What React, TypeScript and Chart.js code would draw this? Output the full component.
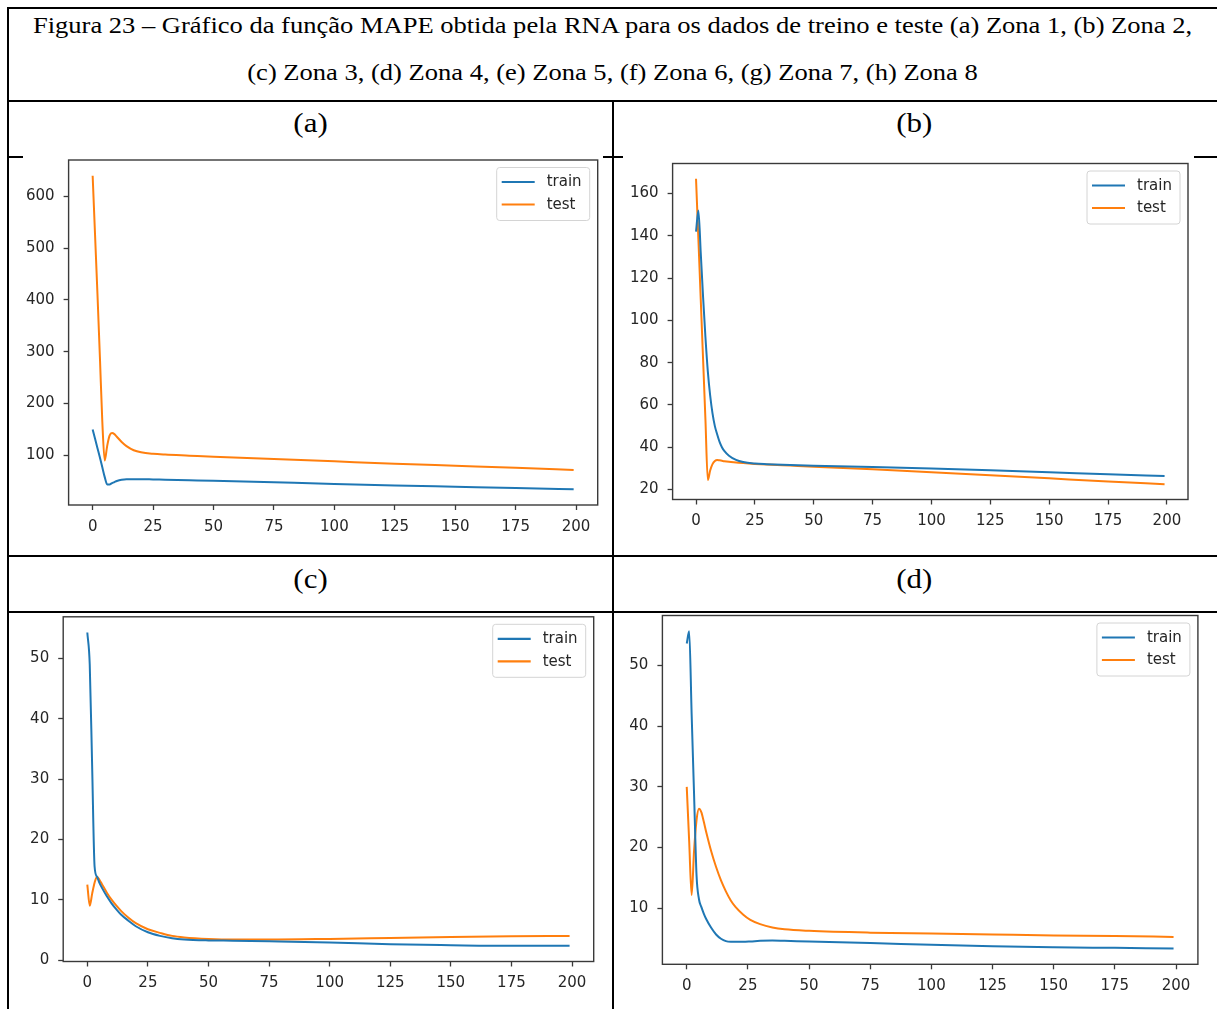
import React, { useEffect, useRef } from "react";
import { Chart, registerables } from "chart.js";

Chart.register(...registerables);

// ---------------- data ----------------
const TITLE_LINE_1 =
  "Figura 23 – Gráfico da função MAPE obtida pela RNA para os dados de treino e teste (a) Zona 1, (b) Zona 2,";
const TITLE_LINE_2 = "(c) Zona 3, (d) Zona 4, (e) Zona 5, (f) Zona 6, (g) Zona 7, (h) Zona 8";
const PANEL_LABELS = ["(a)", "(b)", "(c)", "(d)"];
const SERIES_LABELS = ["train", "test"];
const X_TICKS = [0, 25, 50, 75, 100, 125, 150, 175, 200];

// (a) Zona 1
const EPOCHS_A = [0, 1, 2, 3, 4, 5, 6, 7, 8, 9, 10, 12, 14, 17, 20, 25, 30, 40, 50, 75, 100, 125, 150, 175, 199];
const A_TRAIN = [150, 132, 114, 96, 77, 58, 44, 44, 46.5, 48.5, 50.5, 53, 54, 54, 54, 53.5, 53, 52, 51, 48, 45, 42, 39.5, 37, 34.5];
const A_TEST = [640, 525, 410, 290, 165, 90, 118, 138, 143, 141, 136, 126, 118, 110, 106, 103, 101.5, 99.5, 97.5, 93, 88.5, 84, 80, 76, 72];
const A_Y_TICKS = [100, 200, 300, 400, 500, 600];

// (b) Zona 2
const EPOCHS_B = [0, 1, 2, 3, 4, 5, 6, 7, 8, 9, 10, 11, 12, 14, 17, 20, 25, 30, 40, 50, 75, 100, 125, 150, 175, 199];
const B_TRAIN = [142, 152, 132, 111, 92, 76, 64.5, 56, 50, 46, 42.5, 40, 38.3, 36, 34, 33, 32.3, 32, 31.6, 31.2, 30.6, 29.9, 29.1, 28.2, 27.2, 26.4];
const B_TEST = [167, 138.5, 110, 81.5, 53, 24.5, 29, 32, 33.5, 34, 33.8, 33.6, 33.4, 33.1, 32.8, 32.5, 32.1, 31.8, 31.3, 30.8, 29.6, 28.2, 26.8, 25.3, 23.8, 22.5];
const B_Y_TICKS = [20, 40, 60, 80, 100, 120, 140, 160];

// (c) Zona 3
const EPOCHS_C = [0, 1, 2, 3, 4, 5, 6, 8, 10, 12, 14, 17, 20, 25, 30, 35, 40, 50, 60, 75, 100, 125, 150, 175, 199];
const C_TRAIN = [54.3, 49, 32, 15.5, 13.8, 12.8, 12.0, 10.6, 9.4, 8.4, 7.5, 6.5, 5.6, 4.6, 4.0, 3.6, 3.4, 3.25, 3.2, 3.1, 2.9, 2.6, 2.45, 2.35, 2.35];
const C_TEST = [12.5, 9, 11, 12.8, 13.8, 13.3, 12.6, 11.2, 10.0, 9.0, 8.1, 7.0, 6.1, 5.1, 4.5, 4.0, 3.75, 3.5, 3.4, 3.4, 3.5, 3.65, 3.8, 3.95, 4.0];
const C_Y_TICKS = [0, 10, 20, 30, 40, 50];

// (d) Zona 4
const EPOCHS_D = [0, 1, 2, 3, 4, 5, 6, 7, 8, 10, 12, 14, 16, 18, 20, 23, 26, 30, 35, 40, 50, 75, 100, 125, 150, 175, 199];
const D_TRAIN = [53.6, 55.6, 42, 28.7, 15.5, 11.5, 10.2, 9.1, 8.2, 6.8, 5.7, 5.0, 4.6, 4.5, 4.5, 4.5, 4.55, 4.65, 4.7, 4.65, 4.55, 4.3, 4.0, 3.75, 3.6, 3.5, 3.4];
const D_TEST = [30, 21, 12.2, 19.5, 24.5, 26.4, 25.8, 24.2, 22.5, 19.4, 16.8, 14.6, 12.8, 11.3, 10.2, 9.0, 8.1, 7.4, 6.85, 6.55, 6.3, 6.0, 5.85, 5.7, 5.55, 5.45, 5.3];
const D_Y_TICKS = [10, 20, 30, 40, 50];

// ---------------- styles ----------------
const TRAIN_COLOR = "#1f77b4";
const TEST_COLOR = "#ff7f0e";
const AXIS_COLOR = "#3a3a3a";
const TEXT_COLOR = "#262626";
const TICK_FONT = { family: "'DejaVu Sans', sans-serif", size: 15 };
const SERIF = "'Liberation Serif', 'Times New Roman', serif";

type Rect = { left: number; top: number; width: number; height: number };
type Area = { left: number; top: number; right: number; bottom: number };

const framePlugin = {
  id: "frameAndInnerLegend",
  afterDatasetsDraw(chart: any) {
    const { ctx, chartArea: a } = chart;
    ctx.save();
    ctx.strokeStyle = AXIS_COLOR;
    ctx.lineWidth = 1.4;
    ctx.strokeRect(a.left, a.top, a.right - a.left, a.bottom - a.top);
    const bw = 93;
    const bh = 53;
    const bx = a.right - 8 - bw;
    const by = a.top + 7.5;
    const r = 3;
    ctx.beginPath();
    ctx.moveTo(bx + r, by);
    ctx.lineTo(bx + bw - r, by);
    ctx.quadraticCurveTo(bx + bw, by, bx + bw, by + r);
    ctx.lineTo(bx + bw, by + bh - r);
    ctx.quadraticCurveTo(bx + bw, by + bh, bx + bw - r, by + bh);
    ctx.lineTo(bx + r, by + bh);
    ctx.quadraticCurveTo(bx, by + bh, bx, by + bh - r);
    ctx.lineTo(bx, by + r);
    ctx.quadraticCurveTo(bx, by, bx + r, by);
    ctx.closePath();
    ctx.fillStyle = "rgba(255,255,255,0.85)";
    ctx.fill();
    ctx.strokeStyle = "#d4d4d4";
    ctx.lineWidth = 1;
    ctx.stroke();
    chart.data.datasets.forEach((ds: any, i: number) => {
      const y = by + 14.5 + i * 22.5;
      ctx.strokeStyle = ds.borderColor;
      ctx.lineWidth = 2.2;
      ctx.beginPath();
      ctx.moveTo(bx + 5, y);
      ctx.lineTo(bx + 38, y);
      ctx.stroke();
      ctx.fillStyle = TEXT_COLOR;
      ctx.font = "15px 'DejaVu Sans', sans-serif";
      ctx.textBaseline = "middle";
      ctx.textAlign = "left";
      ctx.fillText(ds.label, bx + 50, y + 0.5);
    });
    ctx.restore();
  },
};

function ChartPanel(props: {
  epochs: number[];
  train: number[];
  test: number[];
  yTicks: number[];
  box: Rect;
  area: Area;
}) {
  const ref = useRef<HTMLCanvasElement>(null);
  const { epochs, train, test, yTicks, box, area } = props;

  useEffect(() => {
    const canvas = ref.current;
    if (!canvas) return;
    const yAxisW = area.left - box.left;
    const xAxisH = box.top + box.height - area.bottom;
    const padTop = area.top - box.top;
    const padRight = box.left + box.width - area.right;

    const all = [...train, ...test];
    const yMin = Math.min(...all);
    const yMax = Math.max(...all);
    const yPad = (yMax - yMin) * 0.05;
    const xMin = Math.min(...epochs);
    const xMax = Math.max(...epochs);
    const xPad = (xMax - xMin) * 0.05;

    const mk = (vals: number[]) => epochs.map((e, i) => ({ x: e, y: vals[i] }));

    const chart = new Chart(canvas, {
      type: "line",
      data: {
        datasets: [
          {
            label: SERIES_LABELS[0],
            data: mk(train),
            borderColor: TRAIN_COLOR,
            backgroundColor: TRAIN_COLOR,
            borderWidth: 2,
            pointRadius: 0,
            fill: false,
            cubicInterpolationMode: "monotone",
          },
          {
            label: SERIES_LABELS[1],
            data: mk(test),
            borderColor: TEST_COLOR,
            backgroundColor: TEST_COLOR,
            borderWidth: 2,
            pointRadius: 0,
            fill: false,
            cubicInterpolationMode: "monotone",
          },
        ],
      },
      options: {
        animation: false,
        responsive: false,
        maintainAspectRatio: false,
        devicePixelRatio: 1,
        events: [],
        layout: { padding: { left: 0, top: padTop, right: padRight, bottom: 0 } },
        plugins: { legend: { display: false }, tooltip: { enabled: false } },
        scales: {
          x: {
            type: "linear",
            min: xMin - xPad,
            max: xMax + xPad,
            afterBuildTicks: (s: any) => {
              s.ticks = X_TICKS.map((v) => ({ value: v }));
            },
            afterFit: (s: any) => {
              s.height = xAxisH;
            },
            grid: {
              display: true,
              drawOnChartArea: false,
              drawTicks: true,
              tickLength: 5,
              tickColor: AXIS_COLOR,
              tickWidth: 1.3,
            },
            border: { display: false },
            ticks: {
              font: TICK_FONT,
              color: TEXT_COLOR,
              padding: 8,
              maxRotation: 0,
              autoSkip: false,
            },
          },
          y: {
            type: "linear",
            min: yMin - yPad,
            max: yMax + yPad,
            afterBuildTicks: (s: any) => {
              s.ticks = yTicks.map((v) => ({ value: v }));
            },
            afterFit: (s: any) => {
              s.width = yAxisW;
            },
            grid: {
              display: true,
              drawOnChartArea: false,
              drawTicks: true,
              tickLength: 5,
              tickColor: AXIS_COLOR,
              tickWidth: 1.3,
            },
            border: { display: false },
            ticks: {
              font: TICK_FONT,
              color: TEXT_COLOR,
              padding: 9,
              autoSkip: false,
            },
          },
        },
      },
      plugins: [framePlugin],
    } as any);
    return () => chart.destroy();
  }, []);

  return (
    <canvas
      ref={ref}
      width={box.width}
      height={box.height}
      style={{
        position: "absolute",
        left: box.left,
        top: box.top,
        width: box.width,
        height: box.height,
      }}
    />
  );
}

function Block({ r }: { r: Rect }) {
  return <div style={{ position: "absolute", left: r.left, top: r.top, width: r.width, height: r.height, background: "#fff" }} />;
}
function HLine({ y, x1, x2 }: { y: number; x1: number; x2: number }) {
  return <div style={{ position: "absolute", left: x1, top: y, width: x2 - x1, height: 2, background: "#000" }} />;
}
function VLine({ x, y1, y2 }: { x: number; y1: number; y2: number }) {
  return <div style={{ position: "absolute", left: x, top: y1, width: 2, height: y2 - y1, background: "#000" }} />;
}

function SerifText({ text, cx, top, size, lh }: { text: string; cx: number; top: number; size: number; lh: number }) {
  return (
    <div
      style={{
        position: "absolute",
        left: cx - 700,
        width: 1400,
        top,
        textAlign: "center",
        fontFamily: SERIF,
        fontSize: size,
        lineHeight: lh + "px",
        color: "#000",
        whiteSpace: "nowrap",
      }}
    >
      <span style={{ display: "inline-block", transform: "scaleX(1.105)", transformOrigin: "center" }}>{text}</span>
    </div>
  );
}

export default function App() {
  return (
    <div
      style={{
        position: "fixed",
        left: 0,
        top: 0,
        width: 1217,
        height: 1009,
        overflow: "hidden",
        background: "#fff",
      }}
    >
      {/* table borders */}
      <HLine y={7} x1={7} x2={1217} />
      <VLine x={7} y1={7} y2={1009} />
      <HLine y={100} x1={7} x2={1217} />
      <HLine y={156} x1={7} x2={1217} />
      <HLine y={555} x1={7} x2={1217} />
      <HLine y={611} x1={7} x2={1217} />
      <VLine x={612} y1={100} y2={1009} />

      {/* white chart images (cover the row lines inside them) */}
      <Block r={{ left: 23, top: 145, width: 580, height: 403 }} />
      <Block r={{ left: 623, top: 145, width: 571, height: 403 }} />
      <Block r={{ left: 23, top: 614, width: 580, height: 395 }} />
      <Block r={{ left: 623, top: 614, width: 594, height: 395 }} />

      {/* title */}
      <SerifText text={TITLE_LINE_1} cx={613} top={10} size={24} lh={30} />
      <SerifText text={TITLE_LINE_2} cx={613} top={57} size={24} lh={30} />

      {/* panel labels */}
      <SerifText text={PANEL_LABELS[0]} cx={310.5} top={106} size={28} lh={34} />
      <SerifText text={PANEL_LABELS[1]} cx={914} top={106} size={28} lh={34} />
      <SerifText text={PANEL_LABELS[2]} cx={311} top={561.5} size={28} lh={34} />
      <SerifText text={PANEL_LABELS[3]} cx={914} top={561.5} size={28} lh={34} />

      {/* charts */}
      <ChartPanel
        epochs={EPOCHS_A}
        train={A_TRAIN}
        test={A_TEST}
        yTicks={A_Y_TICKS}
        box={{ left: 23, top: 135, width: 580, height: 413 }}
        area={{ left: 68.6, top: 160, right: 597.7, bottom: 505 }}
      />
      <ChartPanel
        epochs={EPOCHS_B}
        train={B_TRAIN}
        test={B_TEST}
        yTicks={B_Y_TICKS}
        box={{ left: 623, top: 135, width: 571, height: 413 }}
        area={{ left: 672.6, top: 163.5, right: 1188, bottom: 499.5 }}
      />
      <ChartPanel
        epochs={EPOCHS_C}
        train={C_TRAIN}
        test={C_TEST}
        yTicks={C_Y_TICKS}
        box={{ left: 23, top: 590, width: 580, height: 419 }}
        area={{ left: 63.2, top: 616.8, right: 593.7, bottom: 961.5 }}
      />
      <ChartPanel
        epochs={EPOCHS_D}
        train={D_TRAIN}
        test={D_TEST}
        yTicks={D_Y_TICKS}
        box={{ left: 623, top: 590, width: 594, height: 419 }}
        area={{ left: 662.4, top: 615.5, right: 1197.9, bottom: 964.3 }}
      />
    </div>
  );
}
